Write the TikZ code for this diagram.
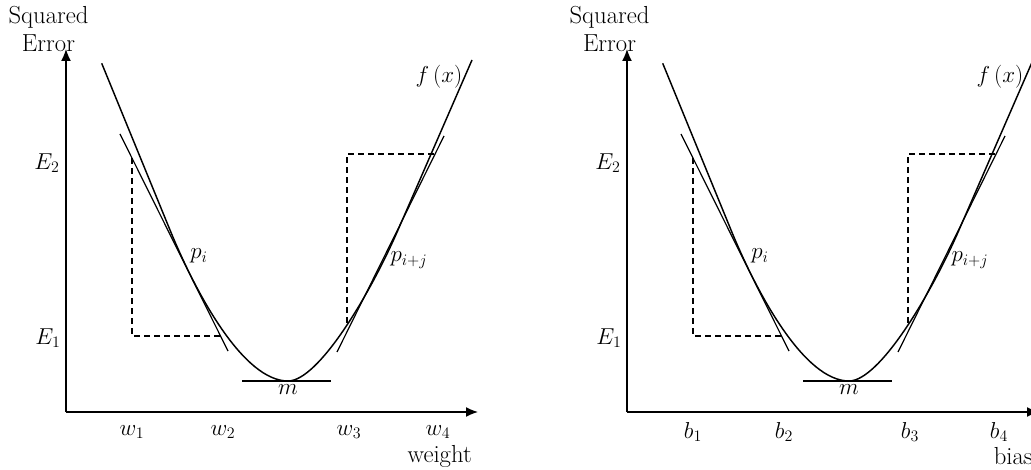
\documentclass[tikz,border=0pt]{standalone}
\usetikzlibrary{arrows.meta}
\begin{document}
\begin{tikzpicture}[x=0.75pt,y=-0.75pt,
  lbl/.style={inner sep=0pt,font=\fontsize{16.5}{19}\selectfont},
  word/.style={inner sep=0pt,font=\fontsize{18.5}{21}\selectfont},
  axisline/.style={line width=1.1pt,-{Latex[length=9pt,width=7.5pt]}},
  curveline/.style={line width=1.1pt},
  tanline/.style={line width=0.9pt},
  guide/.style={line width=0.8pt,dash pattern=on 4.5pt off 3pt}]
\useasboundingbox (0,0) rectangle (1031,470);
\clip (0,0) rectangle (1031,470);
\foreach \off/\v/\lab/\n in {0/w/weight/L,561/b/bias/R}{
\begin{scope}[xshift={\off*0.75pt}]
  % axes
  \coordinate (\n-o) at (66,412);
  \coordinate (\n-ytip) at (66,49);
  \coordinate (\n-xtip) at (478,412);
  \draw[axisline] (\n-o) -- (\n-ytip);
  \draw[axisline] (\n-o) -- (\n-xtip);
  \node[word] (\n-sq) at (48.5,17) {Squared};
  \node[word] (\n-err) at (48.5,43) {Error};
  % curve
  \coordinate (\n-ctl) at (101.7,63.3);
  \coordinate (\n-cl) at (170,230);
  \coordinate (\n-min) at (288,381);
  \coordinate (\n-cr) at (398,230);
  \coordinate (\n-ctr) at (472,60);
  \draw[curveline] (\n-ctl) -- (\n-cl)
    .. controls (197,296) and (244,381) .. (\n-min)
    .. controls (318,381) and (369.3,296) .. (\n-cr) -- (\n-ctr);
  % tangents
  \coordinate (\n-t1a) at (120,134);
  \coordinate (\n-t1b) at (228,351);
  \coordinate (\n-t2a) at (337,352);
  \coordinate (\n-t2b) at (444,136);
  \coordinate (\n-ha) at (242,381);
  \coordinate (\n-hb) at (331,381);
  \draw[tanline] (\n-t1a) -- (\n-t1b);
  \draw[tanline] (\n-t2a) -- (\n-t2b);
  \draw[tanline] (\n-ha) -- (\n-hb);
  % dashed guides
  \coordinate (\n-d1a) at (132,158);
  \coordinate (\n-d1b) at (132,336);
  \coordinate (\n-d1c) at (222,336);
  \coordinate (\n-d2a) at (347,323);
  \coordinate (\n-d2b) at (347,154);
  \coordinate (\n-d2c) at (437,154);
  \draw[guide] (\n-d1a) -- (\n-d1b) -- (\n-d1c);
  \draw[guide] (\n-d2a) -- (\n-d2b) -- (\n-d2c);
  % labels
  \node[lbl] (\n-e2) at (47,163) {$E_2$};
  \node[lbl] (\n-e1) at (48,338) {$E_1$};
  \node[lbl] (\n-v1) at (132,432) {$\v_1$};
  \node[lbl] (\n-v2) at (223,432) {$\v_2$};
  \node[lbl] (\n-v3) at (349,432) {$\v_3$};
  \node[lbl] (\n-v4) at (438,432) {$\v_4$};
  \node[word,anchor=east] (\n-ax) at (472,456) {\lab};
  \node[lbl] (\n-m) at (288,390) {$m$};
  \node[lbl] (\n-pi) at (199,256) {$p_i$};
  \node[lbl] (\n-pij) at (409,260) {$p_{i+j}$};
  \node[lbl] (\n-f) at (439,77) {$f\,(x)$};
\end{scope}}
\end{tikzpicture}
\end{document}
